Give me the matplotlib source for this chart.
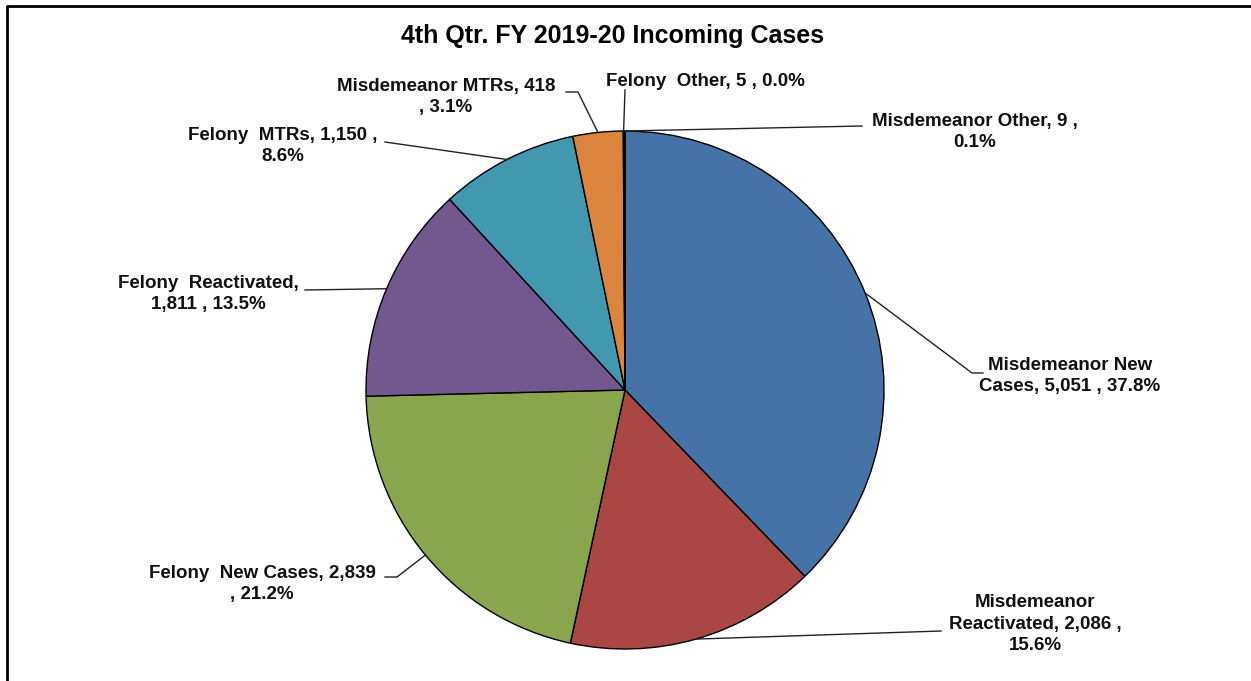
import matplotlib.pyplot as plt
import numpy as np

plt.rcParams['font.family'] = ['Liberation Sans', 'DejaVu Sans']

names = ['Misdemeanor New\nCases', 'Misdemeanor\nReactivated', 'Felony  New Cases',
         'Felony  Reactivated,\n', 'Felony  MTRs', 'Misdemeanor MTRs',
         'Felony  Other', 'Misdemeanor Other']
counts = [5051, 2086, 2839, 1811, 1150, 418, 5, 9]
colors = ['#4572A7', '#AA4643', '#89A54E', '#71588F', '#4198AF', '#DB843D', '#DB843D', '#4572A7']

# label text templates (line breaks as in the original chart)
fmt = ['{n}, {c} , {p}',
       '{n}, {c} ,\n{p}',
       '{n}, {c}\n, {p}',
       '{n}{c} , {p}',
       '{n}, {c} ,\n{p}',
       '{n}, {c}\n, {p}',
       '{n}, {c} , {p}',
       '{n}, {c} ,\n{p}']

# label centre positions and leader elbows (pixels from top-left)
lab_xy = [(1070, 376), (1035, 624), (262, 584), (208, 294),
          (283, 146), (446, 97), (705, 81), (975, 132)]
elbows = [[(983, 373), (972, 373)], [(941, 631)], [(385, 577), (397, 577)],
          [(305, 290)], [(385, 142)], [(566, 92), (578, 92)],
          [(625, 90)], [(862, 126)]]

H = 681
cx, cy, R = 625, 390, 259

fig = plt.figure(figsize=(12.51, 6.81), dpi=100)
ax = fig.add_axes([0, 0, 1, 1])
ax.set_xlim(0, 1251)
ax.set_ylim(0, H)
ax.set_aspect('equal')
ax.axis('off')

wedges, _ = ax.pie(counts, colors=colors, startangle=90, counterclock=False,
                   center=(cx, H - cy), radius=R,
                   wedgeprops=dict(edgecolor='black', linewidth=1.0))
ax.set_xlim(0, 1251)
ax.set_ylim(0, H)

total = sum(counts)
for i, w in enumerate(wedges):
    mid = np.deg2rad((w.theta1 + w.theta2) / 2)
    px = cx + R * np.cos(mid)
    py = (H - cy) + R * np.sin(mid)
    pts = [(x, H - y) for x, y in elbows[i]] + [(px, py)]
    ax.plot([p[0] for p in pts], [p[1] for p in pts], color='#222222', lw=1.0)
    pct = '{:.1f}%'.format(100 * counts[i] / total)
    txt = fmt[i].format(n=names[i], c='{:,}'.format(counts[i]), p=pct)
    ax.text(lab_xy[i][0], H - lab_xy[i][1], txt, ha='center', va='center',
            fontsize=13.5, fontweight='bold', linespacing=1.35, color='#111111')

ax.text(613, H - 36, '4th Qtr. FY 2019-20 Incoming Cases', ha='center', va='center',
        fontsize=18, fontweight='bold')

# outer frame
ax.plot([6.5, 6.5, 1251], [0, H - 5.5, H - 5.5], color='black', lw=2, clip_on=False)

fig.savefig('out.png', dpi=100)
